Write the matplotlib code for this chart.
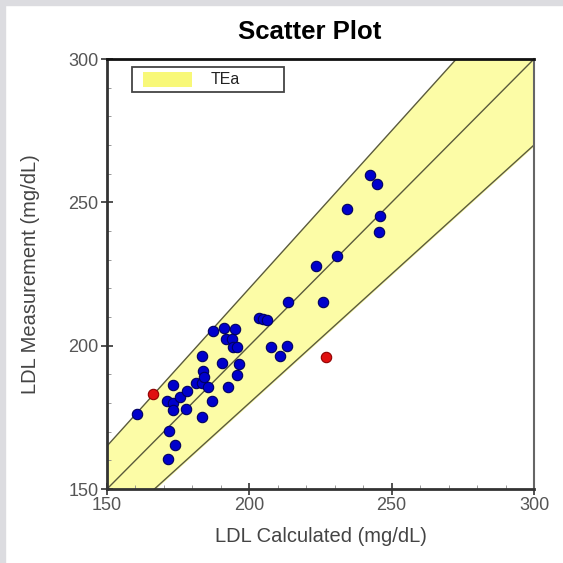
import numpy as np
import matplotlib.pyplot as plt
from matplotlib.patches import Rectangle
from matplotlib.ticker import MultipleLocator

plt.rcParams['font.family'] = ['Liberation Sans', 'DejaVu Sans']

# LDL calculated vs measured (mg/dL)
ldl_calc = [160.4, 173.3, 171.2, 173.3, 173.3, 175.6, 178.0, 177.6, 171.8, 173.9,
            171.3, 183.5, 187.0, 181.2, 183.3, 183.8, 184.1, 185.6, 183.3, 187.3,
            191.2, 195.0, 191.8, 193.8, 194.2, 195.6, 190.3, 196.5, 195.8, 192.6,
            203.5, 204.9, 206.3, 207.5, 213.3, 210.8, 213.5, 225.8, 223.3, 230.7,
            234.2, 242.4, 244.7, 245.9, 245.6]
ldl_meas = [176.1, 186.3, 180.7, 179.9, 177.6, 182.2, 184.2, 177.8, 170.2, 165.3,
            160.4, 175.2, 180.8, 187.1, 186.9, 191.3, 189.2, 185.7, 196.5, 205.2,
            206.1, 205.8, 202.3, 202.2, 199.6, 199.6, 194.1, 193.6, 189.8, 185.7,
            209.5, 209.3, 208.9, 199.6, 199.9, 196.3, 215.1, 215.3, 227.8, 231.3,
            247.6, 259.5, 256.3, 245.3, 239.7]

# points outside the allowable error
out_calc = [166.0, 226.9]
out_meas = [183.1, 195.9]

tea = 0.10
lims = [150, 300]

fig = plt.figure(figsize=(5.63, 5.63), dpi=100)
fig.patch.set_facecolor('white')
# grey frame of the screenshot
fig.patches.append(Rectangle((0, 0), 5 / 563, 1, transform=fig.transFigure,
                             color='#dcdce0', zorder=0))
fig.patches.append(Rectangle((0, 1 - 5 / 563), 1, 5 / 563, transform=fig.transFigure,
                             color='#dcdce0', zorder=0))

ax = fig.add_axes([107 / 563, 1 - 489 / 563, 427 / 563, 430 / 563])

xx = np.array(lims, dtype=float)
ax.fill_between(xx, xx * (1 - tea), xx * (1 + tea), color='#fcfca6', zorder=1)
for k in (1 - tea, 1.0, 1 + tea):
    ax.plot(xx, xx * k, color='#5a5a3c', lw=1.0, zorder=2)

ax.scatter(ldl_calc, ldl_meas, s=56, color='#0000cc', edgecolor='#000060',
           linewidth=0.8, zorder=3)
ax.scatter(out_calc, out_meas, s=56, color='#e01010', edgecolor='#900000',
           linewidth=0.8, zorder=3)

ax.set_xlim(lims)
ax.set_ylim(lims)
ax.xaxis.set_major_locator(MultipleLocator(50))
ax.yaxis.set_major_locator(MultipleLocator(50))
ax.xaxis.set_minor_locator(MultipleLocator(10))
ax.yaxis.set_minor_locator(MultipleLocator(10))
ax.tick_params(which='major', direction='inout', length=8, width=1.2,
               colors='#333333', labelcolor='#555555', labelsize=13, pad=2)
ax.tick_params(which='minor', direction='in', length=3, width=0.6, colors='#888888')
ax.tick_params(top=False, right=False, which='both')

for side in ('left', 'bottom'):
    ax.spines[side].set_linewidth(2)
    ax.spines[side].set_color('#333333')
ax.spines['top'].set_linewidth(2)
ax.spines['top'].set_color('#111111')
ax.spines['right'].set_linewidth(1.5)
ax.spines['right'].set_color('#666666')

ax.set_xlabel('LDL Calculated (mg/dL)', fontsize=14.5, color='#444444')
ax.set_ylabel('LDL Measurement (mg/dL)', fontsize=14.5, color='#444444')
ax.xaxis.set_label_coords(0.5, -0.088)
ax.yaxis.set_label_coords(-0.157, 0.5)
fig.text(310 / 563, 1 - 32 / 563, 'Scatter Plot', fontsize=18.5, fontweight='bold',
         ha='center', va='center')

# legend box (TEa band)
ax.add_patch(Rectangle((0.0585, 0.9233), 0.356, 0.0581, transform=ax.transAxes,
                       facecolor='white', edgecolor='#444444', lw=1.3, zorder=5))
ax.add_patch(Rectangle((0.085, 0.935), 0.115, 0.035, transform=ax.transAxes,
                       facecolor='#f8f878', edgecolor='none', zorder=6))
ax.text(0.277, 0.9523, 'TEa', transform=ax.transAxes, fontsize=11.5,
        color='#222222', ha='center', va='center', zorder=6)

fig.savefig('out.png', dpi=100)
